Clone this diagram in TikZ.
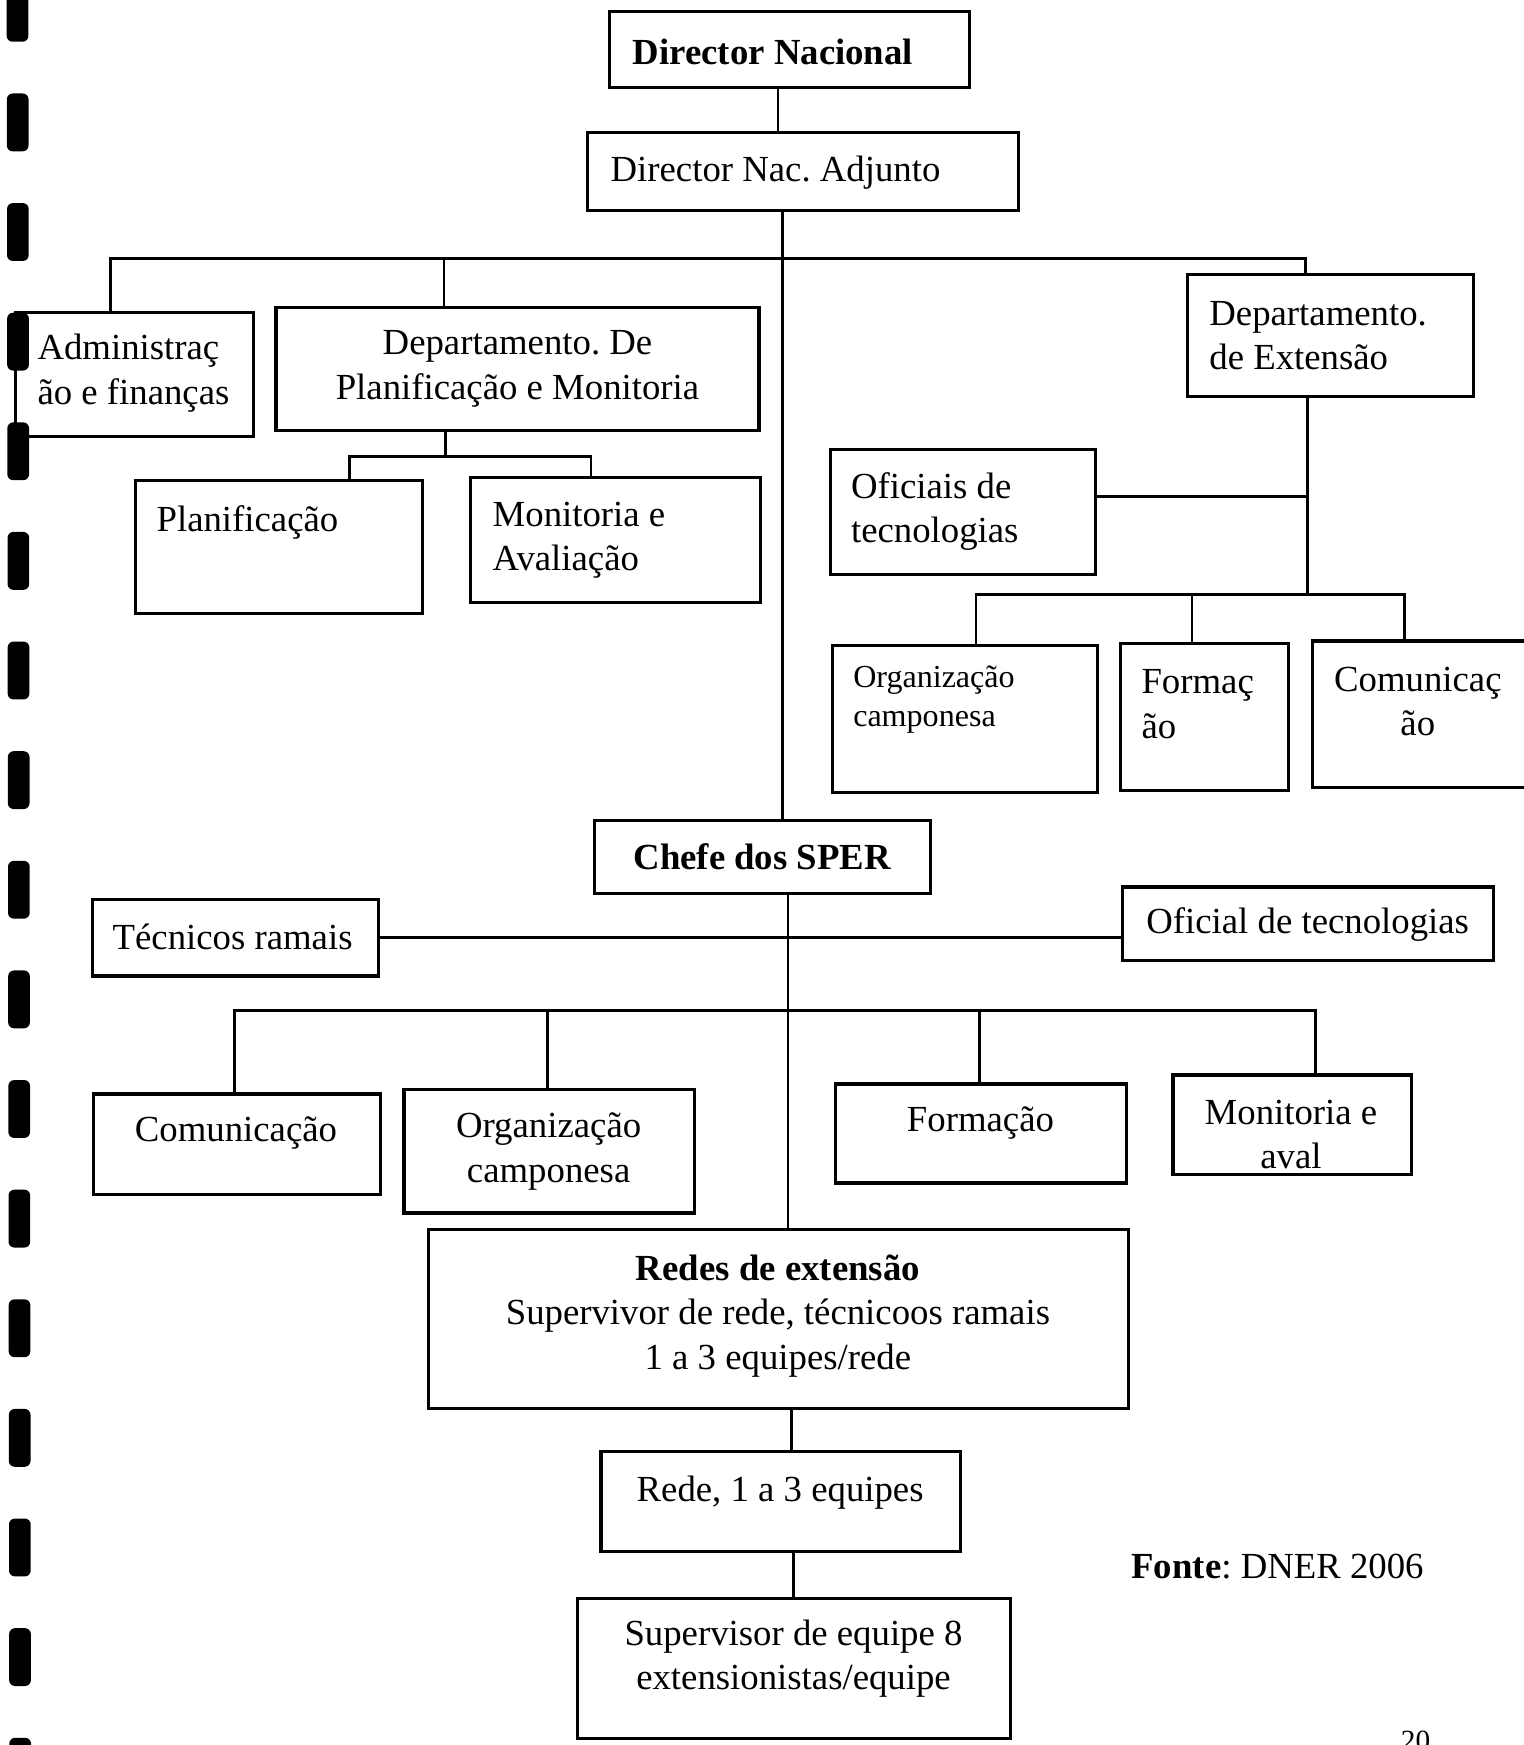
\documentclass[tikz,border=0pt]{standalone}
\usepackage{fontspec}
\setmainfont{Liberation Serif}
\usetikzlibrary{fit}
\frenchspacing
\begin{document}
\begin{tikzpicture}[
    box/.style={draw,line width=0.8pt,inner sep=0pt},
    txt/.style={inner sep=0pt,yshift=-0.035cm,font=\fontsize{9.4}{11.4}\selectfont},
    smalltxt/.style={inner sep=0pt,yshift=-0.03cm,font=\fontsize{8.2}{10}\selectfont},
    link/.style={line width=0.7pt}]
\useasboundingbox (0,0) rectangle (13.69,-15.68);
% Binding holes
    \foreach \k in {0,...,16}
        \fill[rounded corners=1.5pt] ({0.06+0.0015*\k},{0.145-0.985*\k}) rectangle ++(0.195,-0.52);
% Direccao
    \node[box,fit={(5.48,-0.10) (8.71,-0.79)}] (dn) {};
    \node[txt,anchor=west] (dn-t) at (5.68,-0.43) {\textbf{Director Nacional}};
    \node[box,fit={(5.28,-1.19) (9.15,-1.89)}] (dna) {};
    \node[txt,anchor=west] (dna-t) at (5.48,-1.52) {Director Nac. Adjunto};
% Departamentos
    \node[box,fit={(0.14,-2.81) (2.28,-3.92)}] (adm) {};
    \node[txt,anchor=west,align=left] (adm-t) at (0.33,-3.32) {Administraç\\ão e finanças};
    \node[box,fit={(2.48,-2.76) (6.82,-3.87)}] (dpm) {};
    \node[txt,align=center] (dpm-t) at (4.65,-3.28) {Departamento. De\\Planificação e Monitoria};
    \node[box,fit={(1.22,-4.32) (3.80,-5.51)}] (plan) {};
    \node[txt,anchor=west] (plan-t) at (1.40,-4.66) {Planificação};
    \node[box,fit={(4.23,-4.29) (6.83,-5.41)}] (mav) {};
    \node[txt,anchor=west,align=left] (mav-t) at (4.42,-4.82) {Monitoria e\\Avaliação};
    \node[box,fit={(10.67,-2.47) (13.24,-3.56)}] (dex) {};
    \node[txt,anchor=west,align=left] (dex-t) at (10.86,-2.98) {Departamento.\\de Extensão};
    \node[box,fit={(7.46,-4.04) (9.84,-5.16)}] (oft) {};
    \node[txt,anchor=west,align=left] (oft-t) at (7.64,-4.56) {Oficiais de\\tecnologias};
    \node[box,fit={(7.48,-5.80) (9.86,-7.12)}] (orgR) {};
    \node[smalltxt,anchor=west,align=left] (orgR-t) at (7.66,-6.26) {Organização\\camponesa};
    \node[box,fit={(10.07,-5.78) (11.58,-7.10)}] (forR) {};
    \node[txt,anchor=west,align=left] (forR-t) at (10.25,-6.29) {Formaç\\ão};
    \node[box,fit={(11.79,-5.76) (13.80,-7.08)}] (comR) {};
    \node[txt,align=center] (comR-t) at (12.74,-6.27) {Comunicaç\\ão};
% SPER
    \node[box,fit={(5.34,-7.37) (8.36,-8.03)}] (chefe) {};
    \node[txt] (chefe-t) at (6.85,-7.66) {\textbf{Chefe dos SPER}};
    \node[box,fit={(0.83,-8.08) (3.40,-8.77)}] (tec) {};
    \node[txt] (tec-t) at (2.09,-8.38) {Técnicos ramais};
    \node[box,fit={(10.09,-7.97) (13.42,-8.63)}] (ofs) {};
    \node[txt] (ofs-t) at (11.75,-8.27) {Oficial de tecnologias};
    \node[box,fit={(0.84,-9.83) (3.42,-10.73)}] (com) {};
    \node[txt] (com-t) at (2.12,-10.15) {Comunicação};
    \node[box,fit={(3.63,-9.79) (6.24,-10.90)}] (org) {};
    \node[txt,align=center] (org-t) at (4.93,-10.31) {Organização\\camponesa};
    \node[box,fit={(7.51,-9.74) (10.12,-10.63)}] (form) {};
    \node[txt] (form-t) at (8.81,-10.06) {Formação};
    \node[box,fit={(10.54,-9.66) (12.68,-10.55)}] (mon) {};
    \node[txt,align=center] (mon-t) at (11.60,-10.16) {Monitoria e\\aval};
% Redes
    \node[box,fit={(3.85,-11.05) (10.14,-12.66)}] (redes) {};
    \node[txt,align=center] (redes-t) at (6.99,-11.79) {\textbf{Redes de extensão}\\Supervivor de rede, técnicoos ramais\\1 a 3 equipes/rede};
    \node[box,fit={(5.40,-13.04) (8.63,-13.94)}] (rede) {};
    \node[txt] (rede-t) at (7.01,-13.38) {Rede, 1 a 3 equipes};
    \node[box,fit={(5.19,-14.36) (9.08,-15.62)}] (sup) {};
    \node[txt,align=center] (sup-t) at (7.13,-14.87) {Supervisor de equipe 8\\extensionistas/equipe};
% Fonte and page
    \node[txt,anchor=west] (fonte) at (10.16,-14.04) {\textbf{Fonte}: DNER 2006};
    \node[inner sep=0pt,anchor=north,font=\fontsize{7.5}{9}\selectfont] (pag) at (12.72,-15.55) {20};
% Links
    \coordinate (t1) at (6.99,0);
    \coordinate (t2) at (7.03,-2.32);
    \coordinate (t3) at (7.08,-9.08);
    \coordinate (t4) at (7.11,0);
    \coordinate (t5) at (7.13,0);
    \coordinate (ba1) at (0.99,-2.32);
    \coordinate (ba2) at (3.99,-2.32);
    \coordinate (ba3) at (11.73,-2.32);
    \coordinate (bb) at (4.00,-4.10);
    \coordinate (bb1) at (3.14,-4.10);
    \coordinate (bb2) at (5.31,-4.10);
    \coordinate (bo) at (11.75,-4.46);
    \coordinate (bc) at (11.75,-5.34);
    \coordinate (bc1) at (8.77,-5.34);
    \coordinate (bc2) at (10.71,-5.34);
    \coordinate (bc3) at (12.62,-5.34);
    \coordinate (bd1) at (2.11,-9.08);
    \coordinate (bd2) at (4.92,-9.08);
    \coordinate (bd3) at (8.80,-9.08);
    \coordinate (bd4) at (11.82,-9.08);
    \draw[link] (dn.south -| t1) -- (dna.north -| t1);
    \draw[link] (dna.south -| t2) -- (chefe.north -| t2);
    \draw[link] (adm.north -| ba1) -- (ba1) -- (ba3) -- (dex.north -| ba3);
    \draw[link] (ba2) -- (dpm.north -| ba2);
    \draw[link] (dpm.south -| bb) -- (bb);
    \draw[link] (plan.north -| bb1) -- (bb1) -- (bb2) -- (mav.north -| bb2);
    \draw[link] (dex.south -| bc) -- (bc);
    \draw[link] (oft.east |- bo) -- (bo);
    \draw[link] (orgR.north -| bc1) -- (bc1) -- (bc3) -- (comR.north -| bc3);
    \draw[link] (bc2) -- (forR.north -| bc2);
    \draw[link] (chefe.south -| t3) -- (redes.north -| t3);
    \draw[link] (tec.east) -- (tec.east -| ofs.west);
    \draw[link] (com.north -| bd1) -- (bd1) -- (bd4) -- (mon.north -| bd4);
    \draw[link] (bd2) -- (org.north -| bd2);
    \draw[link] (bd3) -- (form.north -| bd3);
    \draw[link] (redes.south -| t4) -- (rede.north -| t4);
    \draw[link] (rede.south -| t5) -- (sup.north -| t5);
% Helper Grid
    % \draw[step=1] (0,-16) grid (14,0);
\end{tikzpicture}
\end{document}
